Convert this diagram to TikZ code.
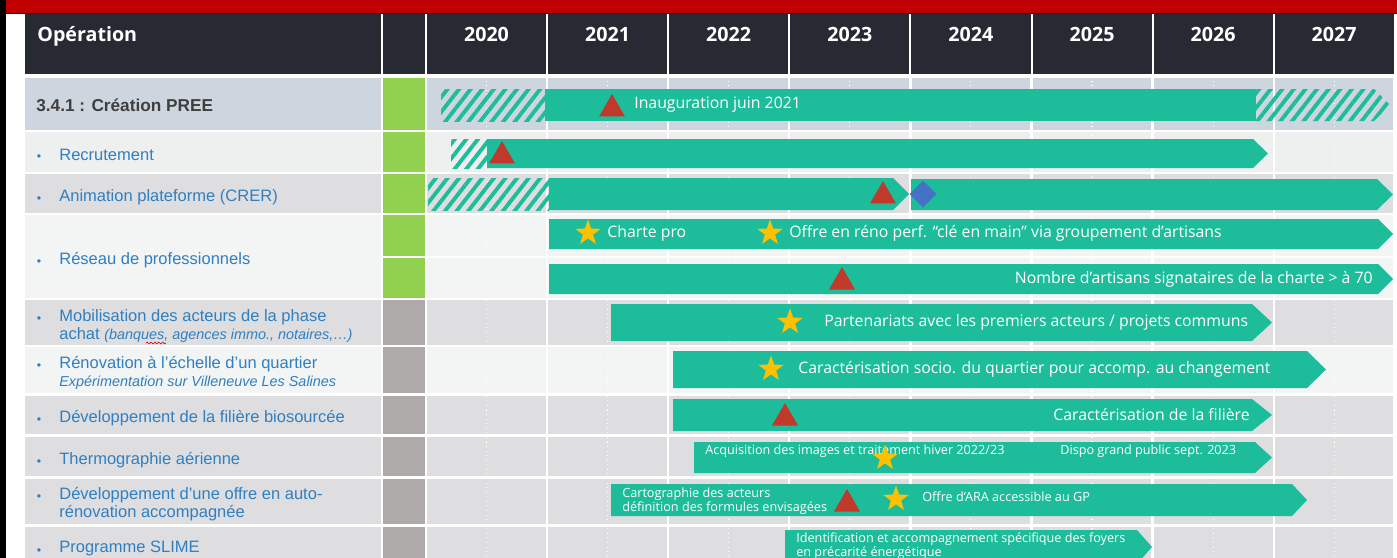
\documentclass[tikz,border=0pt]{standalone}
\usepackage{fontspec}
\setmainfont{Liberation Sans}
\newfontfamily\barfont{Open Sans}
\usetikzlibrary{shapes.geometric,patterns.meta,decorations.pathmorphing}

\definecolor{topred}{HTML}{C00000}
\definecolor{hdrdark}{HTML}{272A33}
\definecolor{bargreen}{HTML}{1DBD9B}
\definecolor{labblue}{HTML}{2F7FC1}
\definecolor{labdark}{HTML}{3F3F3F}
\definecolor{okgreen}{HTML}{92D050}
\definecolor{offgray}{HTML}{AEAAAA}
\definecolor{rowblue}{HTML}{CDD5DF}
\definecolor{rowpale}{HTML}{EEEFEF}
\definecolor{rowlight}{HTML}{F3F4F4}
\definecolor{rowgray}{HTML}{DEDEE1}
\definecolor{msred}{HTML}{C0392B}
\definecolor{msstar}{HTML}{FFC000}
\definecolor{msblue}{HTML}{4472C4}

% one table row: top, bottom, row colour, status cell colour
\newcommand{\tabrow}[4]{%
  \fill[#3] (25,#1) rectangle (381,#2);
  \fill[#3] (427,#1) rectangle (1393,#2);
  \fill[#4] (383,#1) rectangle (425,#2);}
% arrow bar: left, flat end, top, bottom, tip
\newcommand{\gbar}[5]{%
  \fill[bar] (#1,#3) -- (#2,#3) -- (#5,{(#3+#4)/2}) -- (#2,#4) -- (#1,#4) -- cycle;}
\newcommand{\subtxt}[1]{{\itshape\fontsize{8.2}{10.2}\selectfont #1}}

\begin{document}
\begin{tikzpicture}[
  x=0.02cm,y=-0.02cm,
  lbl/.style ={anchor=west,inner sep=0pt,yshift=-1pt,text=labblue,font=\fontsize{9.4}{10.2}\selectfont},
  bul/.style ={inner sep=0pt,yshift=-2.6pt,text=labblue,font=\fontsize{7}{8}\selectfont},
  hdr/.style ={inner sep=0pt,text=white,font=\barfont\bfseries\fontsize{11.2}{13}\selectfont},
  bar/.style ={fill=bargreen},
  hatch/.style={pattern={Lines[angle=52,distance=5.2pt,line width=2.2pt]},pattern color=bargreen},
  btxt/.style={inner sep=0pt,text=white,font=\barfont\fontsize{9}{10.5}\selectfont},
  stxt/.style={inner sep=0pt,text=white,align=left,anchor=west,font=\barfont\fontsize{7.2}{8}\selectfont},
  tri/.style ={regular polygon,regular polygon sides=3,fill=msred,minimum size=0.6cm,inner sep=0pt,outer sep=0pt,anchor=corner 1},
  star5/.style={star,star points=5,star point ratio=2.5,fill=msstar,minimum size=0.54cm,inner sep=0pt},
  gem/.style ={diamond,fill=msblue,minimum size=0.54cm,inner sep=0pt},
  yline/.style={white,line width=1.3pt},
  hline/.style={white,line width=0.6pt,dotted}
]
\useasboundingbox (0,0) rectangle (1397,558);
\clip (0,0) rectangle (1397,558);
\fill[white] (0,0) rectangle (1397,558);
\fill[topred] (6,0) rectangle (1397,13);
\draw[black,line width=0.6pt] (6,13.3) -- (1397,13.3);
\fill[black] (0,0) rectangle (6,558);

% header
\fill[hdrdark] (25,14) rectangle (381,74);
\fill[hdrdark] (383,14) rectangle (425,74);
\node[hdr,anchor=west] (op) at (37,36) {Opération};
\foreach \yr [count=\i from 0] in {2020,...,2027}{
  \fill[hdrdark] ({427+121.1*\i},14) rectangle ({425+121.1*(\i+1)},74);
  \node[hdr] (y\yr) at ({486.5+121.1*\i},34.5) {\yr};
}

% rows
\tabrow{78}{130}{rowblue}{okgreen}
\tabrow{132}{172}{rowpale}{okgreen}
\tabrow{174}{213}{rowgray}{okgreen}
\tabrow{215}{298}{rowlight}{okgreen}
\tabrow{300}{345}{rowgray}{offgray}
\tabrow{347}{393}{rowlight}{offgray}
\tabrow{396}{434}{rowgray}{offgray}
\tabrow{437}{476}{rowgray}{offgray}
\tabrow{479}{524}{rowgray}{offgray}
\tabrow{527}{570}{rowgray}{offgray}
\fill[white] (383,256) rectangle (425,258);
\draw[white,line width=0.8pt] (427,257) -- (1393,257);

% grid
\foreach \i in {1,...,7} \draw[yline] ({426+121.1*\i},76) -- ({426+121.1*\i},558);
\foreach \i in {0,...,7} \draw[hline] ({486.5+121.1*\i},76) -- ({486.5+121.1*\i},558);

% operations
\node[lbl,font=\bfseries\fontsize{9.8}{11}\selectfont,text=labdark] (l1) at (36,104) {3.4.1 : Création PREE};
\foreach \yy in {153,195,258,315,362,416,458,493,547} \node[bul] (b\yy) at (39,\yy) {•};
\node[lbl] (l2) at (59,153) {Recrutement};
\node[lbl] (l3) at (59,195) {Animation plateforme (CRER)};
\node[lbl] (l4) at (59,258) {Réseau de professionnels};
\node[lbl,align=left] (l5) at (59,324) {Mobilisation des acteurs de la phase\\achat \subtxt{(banques, agences immo., notaires,…)}};
\node[lbl,align=left] (l6) at (59,371) {Rénovation à l’échelle d’un quartier\\\subtxt{Expérimentation sur Villeneuve Les Salines}};
\node[lbl] (l7) at (59,416) {Développement de la filière biosourcée};
\node[lbl] (l8) at (59,458) {Thermographie aérienne};
\node[lbl,align=left] (l9) at (59,502) {Développement d’une offre en auto-\\rénovation accompagnée};
\node[lbl] (l10) at (59,547) {Programme SLIME};
\draw[red!85!black,line width=0.35pt,decorate,decoration={snake,amplitude=0.5pt,segment length=2.2pt}] (146,343) -- (166,343);

% 3.4.1
\fill[hatch] (441,89) rectangle (545,121);
\fill[bar] (545,89) rectangle (1256,121);
\fill[hatch] (1256,89) -- (1374,89) -- (1390,105) -- (1374,121) -- (1256,121) -- cycle;
\node[tri] (m1) at (612,94) {};
\node[btxt,anchor=west] (t1) at (634,105) {Inauguration juin 2021};

% Recrutement
\fill[hatch] (451,139) rectangle (487,168);
\gbar{487}{1253}{139}{168}{1268}
\node[tri] (m2) at (502,141) {};

% Animation
\fill[hatch] (428,178) rectangle (549,210);
\gbar{549}{893}{178}{210}{909}
\gbar{911}{1377}{179}{210}{1393}
\node[tri] (m3) at (883,181) {};
\node[gem] (d3) at (923,194) {};

% Reseau
\gbar{549}{1378}{219}{249}{1393}
\node[star5] (s4a) at (588,233) {};
\node[btxt,anchor=west] (t4a) at (607,233) {Charte pro};
\node[star5] (s4b) at (770,233) {};
\node[btxt,anchor=west] (t4b) at (789,233) {Offre en réno perf. “clé en main” via groupement d’artisans};
\gbar{549}{1378}{264}{294}{1393}
\node[tri] (m4) at (842,267) {};
\node[btxt,anchor=east] (t4c) at (1373,279) {Nombre d’artisans signataires de la charte > à 70};

% Mobilisation
\gbar{611}{1252}{304}{341}{1272}
\node[star5] (s5) at (790,322) {};
\node[btxt,anchor=west] (t5) at (824,322) {Partenariats avec les premiers acteurs / projets communs};

% Renovation quartier
\gbar{673}{1307}{351}{388}{1326}
\node[star5] (s6) at (771,369) {};
\node[btxt,anchor=west] (t6) at (798,369) {Caractérisation socio. du quartier pour accomp. au changement};

% Filiere
\gbar{673}{1252}{399}{431}{1272}
\node[tri] (m7) at (785,403) {};
\node[btxt,anchor=east] (t7) at (1250,415) {Caractérisation de la filière};

% Thermographie
\gbar{694}{1255}{442}{473}{1272}
\node[stxt] (t8a) at (705,451) {Acquisition des images et traitement hiver 2022/23};
\node[stxt] (t8b) at (1060,451) {Dispo grand public sept. 2023};
\node[star5] (s8) at (885,458) {};

% Auto-renovation
\gbar{611}{1292}{484}{516}{1307}
\node[stxt] (t9a) at (622,501) {Cartographie des acteurs\\définition des formules envisagées};
\node[tri] (m9) at (847,489) {};
\node[star5] (s9) at (896,499) {};
\node[stxt] (t9b) at (922,497) {Offre d’ARA accessible au GP};

% SLIME
\gbar{785}{1137}{530}{564}{1152}
\node[stxt] (t10) at (796,546) {Identification et accompagnement spécifique des foyers\\en précarité énergétique};
\end{tikzpicture}
\end{document}
